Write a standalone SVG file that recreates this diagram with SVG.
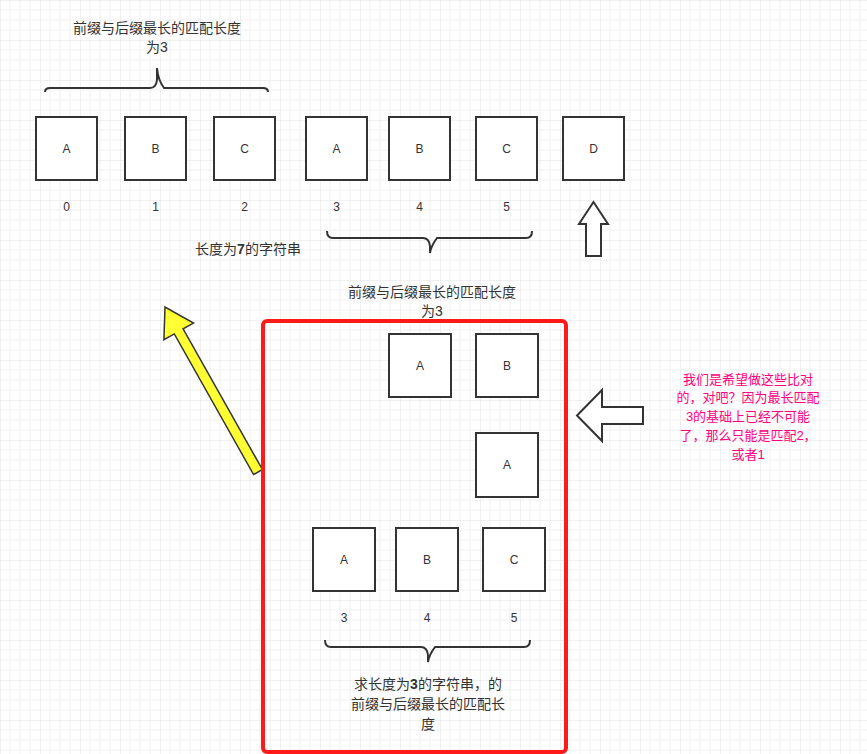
<svg xmlns="http://www.w3.org/2000/svg" width="867" height="754" viewBox="0 0 867 754">
<style>
.b{fill:#fff;stroke:#333;stroke-width:2}
.l{font-family:"Liberation Sans","Noto Sans CJK SC",sans-serif;font-size:12px;fill:#333;text-anchor:middle}
.t{font-family:"Liberation Sans","Noto Sans CJK SC",sans-serif;font-size:14px;fill:#333;text-anchor:middle}
.p{font-family:"Liberation Sans","Noto Sans CJK SC",sans-serif;font-size:13px;fill:#ff0080;text-anchor:middle}
.br{fill:none;stroke:#333;stroke-width:2}
</style>
<defs>
<pattern id="g" width="40" height="40" patternUnits="userSpaceOnUse">
<path d="M10 0V40M20 0V40M30 0V40M0 10H40M0 20H40M0 30H40" stroke="#f0f0f0" stroke-width="1" fill="none"/>
<path d="M0 0V40M0 0H40" stroke="#e2e2e2" stroke-width="1" fill="none"/>
</pattern>
</defs>
<rect width="867" height="754" fill="#fff"/>
<rect width="867" height="754" fill="url(#g)"/>
<g id="top-row">
<rect class="b" x="36" y="117" width="61" height="63"/><text class="l" x="66.5" y="153">A</text>
<rect class="b" x="125" y="117" width="61" height="63"/><text class="l" x="155.5" y="153">B</text>
<rect class="b" x="214" y="117" width="61" height="63"/><text class="l" x="244.5" y="153">C</text>
<rect class="b" x="306" y="117" width="61" height="63"/><text class="l" x="336.5" y="153">A</text>
<rect class="b" x="389" y="117" width="61" height="63"/><text class="l" x="419.5" y="153">B</text>
<rect class="b" x="476" y="117" width="61" height="63"/><text class="l" x="506.5" y="153">C</text>
<rect class="b" x="563" y="117" width="61" height="63"/><text class="l" x="593.5" y="153">D</text>
<text class="l" x="66.5" y="211">0</text><text class="l" x="155.5" y="211">1</text><text class="l" x="244.5" y="211">2</text>
<text class="l" x="336.5" y="211">3</text><text class="l" x="419.5" y="211">4</text><text class="l" x="506.5" y="211">5</text>
</g>
<g id="top-labels">
<text class="t" x="157" y="33">前缀与后缀最长的匹配长度</text>
<text class="t" x="157" y="52">为3</text>
<text class="t" x="248" y="254">长度为<tspan font-weight="bold">7</tspan>的字符串</text>
<text class="t" x="432" y="297">前缀与后缀最长的匹配长度</text>
<text class="t" x="432" y="316">为3</text>
</g>
<g id="braces">
<path class="br" d="M45 92Q45 88 50 88H150Q156 88 157 80V68Q158 80 164 88H263Q268 88 268 92"/>
<path class="br" d="M327 231Q327 238 333 238H423Q429 238 430 246V253Q431 246 437 238H526Q532 238 532 231"/>
<path class="br" d="M325 640Q325 647 331 647H421Q427 647 428 655V662Q429 655 435 647H524Q530 647 530 640"/>
</g>
<g id="connectors">
<polygon points="586,256 601,256 601,224 608,224 593.5,202 579,224 586,224" fill="#fff" stroke="#333" stroke-width="2"/>
<polygon points="643,407 602,407 602,390 577,415.5 602,441 602,424 643,424" fill="#fff" stroke="#333" stroke-width="2"/>
<polygon points="262.4,469.5 183.1,328.9 193.5,323.1 165,307 163.9,339.7 174.3,333.9 253.6,474.5" fill="#ffff33" stroke="#333" stroke-width="1.5"/>
</g>
<g id="red-frame">
<rect x="263" y="321" width="303" height="431" rx="4" fill="none" stroke="#ff1a1a" stroke-width="4"/>
</g>
<g id="inner">
<rect class="b" x="389" y="334" width="62" height="63"/><text class="l" x="420" y="370">A</text>
<rect class="b" x="476" y="334" width="62" height="63"/><text class="l" x="507" y="370">B</text>
<rect class="b" x="476" y="433" width="62" height="64"/><text class="l" x="507" y="469">A</text>
<rect class="b" x="313" y="528" width="62" height="63"/><text class="l" x="344" y="564">A</text>
<rect class="b" x="396" y="528" width="62" height="63"/><text class="l" x="427" y="564">B</text>
<rect class="b" x="483" y="528" width="62" height="63"/><text class="l" x="514" y="564">C</text>
<text class="l" x="344" y="622">3</text><text class="l" x="427" y="622">4</text><text class="l" x="514" y="622">5</text>
<text class="t" x="428" y="689">求长度为<tspan font-weight="bold">3</tspan>的字符串，的</text>
<text class="t" x="428" y="709">前缀与后缀最长的匹配长</text>
<text class="t" x="428" y="729">度</text>
</g>
<g id="note">
<text class="p" x="748" y="384">我们是希望做这些比对</text>
<text class="p" x="748" y="402">的，对吧？因为最长匹配</text>
<text class="p" x="748" y="421">3的基础上已经不可能</text>
<text class="p" x="748" y="440">了，那么只能是匹配2，</text>
<text class="p" x="748" y="459">或者1</text>
</g>
</svg>
